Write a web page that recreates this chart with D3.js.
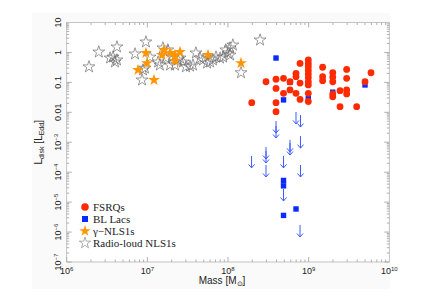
<!DOCTYPE html>
<html><head><meta charset="utf-8">
<script src="https://cdn.jsdelivr.net/npm/d3@7"></script>
<style>body{margin:0;background:#fff}</style>
</head><body><svg id="c" width="433" height="306"></svg>
<script>
// Radio-loud NLS1s (grey open stars)
const rlMass=[1.89e6,2.5e6,3.45e6,3.75e6,3.97e6,4.2e6,4.2e6,7.03e6,8.83e6,8.6e6,9.6e6,9.35e6,1.08e7,1.36e7,1.43e7,1.56e7,1.8e7,1.7e7,1.91e7,2.02e7,2.2e7,2.4e7,2.54e7,2.77e7,3.01e7,3.38e7,3.68e7,4.0e7,4.5e7,4.9e7,5.5e7,6.0e7,6.5e7,7.1e7,7.96e7,8.7e7,9.4e7,1.0e8,1.06e8,1.15e8,1.06e8,1.45e8,2.5e8];
const rlL=[0.33,1.03,0.65,0.70,0.48,1.52,0.56,0.89,0.26,0.12,2.23,0.30,0.70,0.48,0.38,1.41,1.21,0.65,0.38,0.70,0.38,0.56,0.65,0.48,0.33,0.35,0.38,0.96,0.65,0.56,0.44,0.48,0.56,0.70,0.65,0.70,1.21,0.96,1.41,1.77,0.82,0.21,2.6];
// gamma-NLS1s (orange stars)
const gMass=[7.66e6,9.6e6,9.9e6,1.21e7,1.52e7,1.61e7,1.91e7,2.2e7,2.2e7,2.54e7,5.65e7,1.45e8];
const gL=[0.26,0.96,0.44,0.12,0.82,1.21,0.96,0.82,0.52,1.03,0.82,0.44];
// FSRQs (red circles)
const fMass=[1.97e8,2.96e8,3.94e8,3.94e8,3.94e8,3.94e8,4.88e8,4.88e8,5.87e8,5.87e8,6.97e8,6.97e8,6.97e8,7.82e8,7.82e8,7.82e8,9.9e8,9.9e8,9.9e8,9.9e8,9.9e8,9.9e8,9.9e8,9.9e8,9.9e8,9.9e8,1.49e9,1.49e9,1.49e9,1.99e9,1.99e9,1.99e9,1.99e9,1.99e9,2.45e9,2.45e9,2.96e9,2.96e9,2.96e9,2.96e9,3.94e9,5.0e9,5.93e9];
const fL=[0.021,0.105,0.127,0.063,0.021,0.0105,0.137,0.043,0.105,0.056,0.20,0.155,0.043,0.43,0.095,0.027,0.56,0.42,0.33,0.25,0.19,0.145,0.105,0.082,0.043,0.023,0.32,0.155,0.114,0.21,0.15,0.105,0.041,0.033,0.053,0.0154,0.27,0.137,0.056,0.041,0.0154,0.105,0.21];
// BL Lacs (blue squares)
const bMass=[3.94e8,4.88e8,5.87e8,9.9e8,1.99e9,5.0e9,4.88e8,4.88e8,6.97e8,4.88e8];
const bL=[0.65,0.026,0.10,0.029,0.047,0.082,5.3e-5,3.5e-5,5.9e-6,3.6e-6];
// BL Lac upper limits (arrows)
const uMass=[6.97e8,7.93e8,3.94e8,3.94e8,5.87e8,5.87e8,7.93e8,2.96e8,2.96e8,1.96e8,4.88e8,2.96e8,7.93e8,4.88e8,7.82e8];
const uL=[0.0103,0.0081,0.0051,0.0035,0.0012,9.4e-4,0.0016,6.9e-4,5.1e-4,3.5e-4,3.5e-4,1.74e-4,1.74e-4,2.75e-5,1.72e-6];
// tick labels
const xTickExp=[6,7,8,9,10];
const yTickVals=[10,1,0.1,0.01,1e-3,1e-4,1e-5,1e-6,1e-7];
const yTickLabels=["10","1","0.1","0.01","10|-3","10|-4","10|-5","10|-6","10|-7"];
const legendLabels=["FSRQs","BL Lacs","\u03b3\u2212NLS1s","Radio-loud NLS1s"];

const svg=d3.select("#c");
const L=66.7,R=389.3,T=22.5,B=262;
const x=d3.scaleLog().domain([1e6,1e10]).range([L,R]);
const y=d3.scaleLog().domain([1e-7,10]).range([B,T]);

svg.append("rect").attr("x",32).attr("y",13).attr("width",358).attr("height",276).attr("fill","#fafafa");
svg.append("rect").attr("x",L).attr("y",T).attr("width",R-L).attr("height",B-T).attr("fill","#fff");

const tickCol="#9a9a9a";
const g=svg.append("g").attr("stroke",tickCol).attr("stroke-width",0.8);
// x ticks
for(let e=6;e<10;e++){for(let m=1;m<10;m++){const v=m*Math.pow(10,e);const px=x(v);const len=m===1?5:2.5;
 g.append("line").attr("x1",px).attr("x2",px).attr("y1",B).attr("y2",B-len);
 g.append("line").attr("x1",px).attr("x2",px).attr("y1",T).attr("y2",T+len);}}
// y ticks
for(let e=-7;e<1;e++){for(let m=1;m<10;m++){const v=m*Math.pow(10,e);const py=y(v);const len=m===1?5:2.5;
 g.append("line").attr("y1",py).attr("y2",py).attr("x1",L).attr("x2",L+len);
 g.append("line").attr("y1",py).attr("y2",py).attr("x1",R).attr("x2",R-len);}}
svg.append("rect").attr("x",L).attr("y",T).attr("width",R-L).attr("height",B-T).attr("fill","none").attr("stroke","#b5b5b5").attr("stroke-width",0.8);

const sans="Liberation Sans, Arial, sans-serif";
// x tick labels
xTickExp.forEach(e=>{const t=svg.append("text").attr("x",x(Math.pow(10,e))).attr("y",274).attr("text-anchor","middle").attr("font-family",sans).attr("font-size",9).attr("fill","#222");
 t.append("tspan").text("10");t.append("tspan").attr("font-size",6).attr("dy",-3.5).text(e);});
// y tick labels
yTickVals.forEach((v,i)=>{const t=svg.append("text").attr("transform",`translate(61,${y(v)}) rotate(-90)`).attr("text-anchor","middle").attr("font-family",sans).attr("font-size",9).attr("fill","#222");
 const parts=yTickLabels[i].split("|");t.append("tspan").text(parts[0]);
 if(parts[1]) t.append("tspan").attr("font-size",6).attr("dy",-3.5).text(parts[1].replace("-","\u2212"));});
// axis titles
const xt=svg.append("text").attr("x",222).attr("y",284).attr("text-anchor","middle").attr("font-family",sans).attr("font-size",10).attr("fill","#222");
xt.append("tspan").text("Mass [M");xt.append("tspan").attr("font-size",7).attr("dy",2).text("\u2299");xt.append("tspan").attr("dy",-2).text("]");
const yt=svg.append("text").attr("transform",`translate(42,${(T+B)/2}) rotate(-90)`).attr("text-anchor","middle").attr("font-family",sans).attr("font-size",10).attr("fill","#222");
yt.append("tspan").text("L");yt.append("tspan").attr("font-size",7).attr("dy",2).text("disk");yt.append("tspan").attr("dy",-2).text(" [L");
yt.append("tspan").attr("font-size",7).attr("dy",2).text("Edd");yt.append("tspan").attr("dy",-2).text("]");

const starPath=d3.symbol().type(d3.symbolStar).size(44)();
const smallStar=d3.symbol().type(d3.symbolStar).size(40)();
// grey stars
svg.append("g").selectAll("path").data(rlMass).join("path").attr("d",starPath)
 .attr("transform",(d,i)=>`translate(${x(d)},${y(rlL[i])})`).attr("fill","none").attr("stroke","#6e6e6e").attr("stroke-width",0.7);
// orange stars
svg.append("g").selectAll("path").data(gMass).join("path").attr("d",starPath)
 .attr("transform",(d,i)=>`translate(${x(d)},${y(gL[i])})`).attr("fill","#ff9500");
// arrows
const ac="#3c5cff";
const ag=svg.append("g").attr("stroke",ac).attr("stroke-width",1).attr("fill","none");
uMass.forEach((m,i)=>{const px=x(m),py=y(uL[i]);
 ag.append("line").attr("x1",px).attr("x2",px).attr("y1",py).attr("y2",py+12);
 ag.append("path").attr("d",`M${px-3},${py+8.5}L${px},${py+12}L${px+3},${py+8.5}`);});
// blue squares
svg.append("g").selectAll("rect").data(bMass).join("rect")
 .attr("x",d=>x(d)-2.7).attr("y",(d,i)=>y(bL[i])-2.7).attr("width",5.4).attr("height",5.4).attr("fill","#0a2aff");
// red circles
svg.append("g").selectAll("circle").data(fMass).join("circle")
 .attr("cx",d=>x(d)).attr("cy",(d,i)=>y(fL[i])).attr("r",3.4).attr("fill","#ff2a00");

// legend
const serif="Liberation Serif, Times New Roman, serif";
const lg=svg.append("g");
const ly=[207,219,231,243];
lg.append("circle").attr("cx",85).attr("cy",ly[0]).attr("r",3.8).attr("fill","#ff2a00");
lg.append("rect").attr("x",82).attr("y",ly[1]-3).attr("width",6).attr("height",6).attr("fill","#0a2aff");
lg.append("path").attr("d",smallStar).attr("transform",`translate(85,${ly[2]})`).attr("fill","#ff9500");
lg.append("path").attr("d",smallStar).attr("transform",`translate(85,${ly[3]})`).attr("fill","none").attr("stroke","#8a8a8a").attr("stroke-width",0.7);
legendLabels.forEach((t,i)=>lg.append("text").attr("x",93).attr("y",ly[i]+3.8).attr("font-family",serif).attr("font-size",11).attr("fill","#222").text(t));
</script></body></html>
